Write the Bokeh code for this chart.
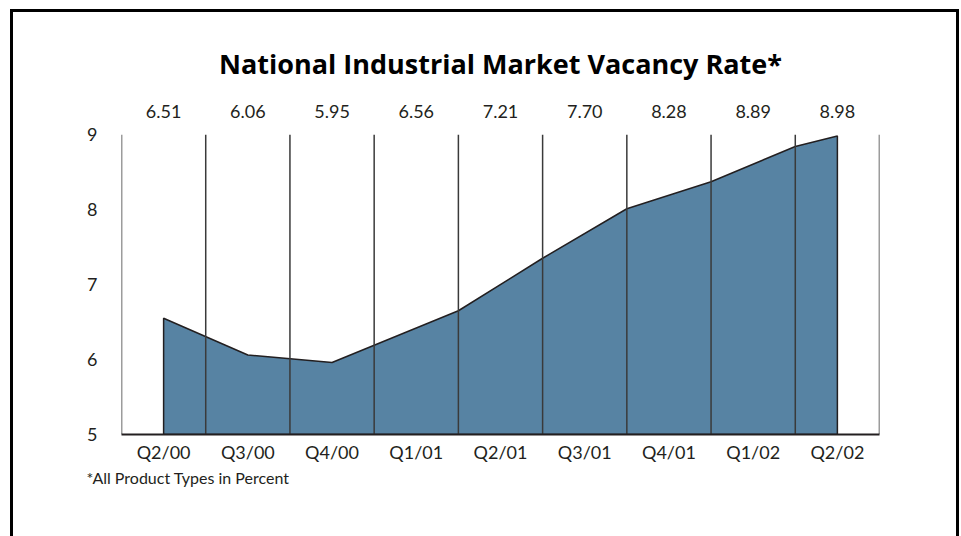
from bokeh.plotting import figure
from bokeh.models import FixedTicker, LinearAxis, Range1d, Title
from bokeh.embed import file_html
from bokeh.resources import INLINE

# ---- data -------------------------------------------------------------
quarters = ["Q2/00", "Q3/00", "Q4/00", "Q1/01", "Q2/01", "Q3/01", "Q4/01", "Q1/02", "Q2/02"]
vacancy = [6.51, 6.06, 5.95, 6.56, 7.21, 7.70, 8.28, 8.89, 8.98]
# outline of the shaded area as it is drawn in the chart (quarter index, percent)
curve_quarter = [0, 1, 2, 3.5, 4.5, 5.5, 6.5, 7.5, 8]
curve_rate = [6.55, 6.06, 5.96, 6.65, 7.35, 8.01, 8.37, 8.84, 8.98]
y_ticks = [5, 6, 7, 8, 9]
y_min, y_max = 5, 9

FONT = "Lato"
INK = "#231f20"

# outer exhibit frame (left, top and right rules) painted behind the canvas
rule = "linear-gradient(#000,#000)"
frame_bg = (f"{rule} 10px 9px / 3px 700px no-repeat, "
            f"{rule} 10px 9px / 949px 3px no-repeat, "
            f"{rule} 956px 9px / 3px 700px no-repeat, #ffffff")

p = figure(width=961, height=536,
           x_range=Range1d(-0.5, len(quarters) - 0.5), y_range=Range1d(y_min, y_max),
           output_backend="svg", toolbar_location=None,
           x_axis_location=None, y_axis_location=None,
           min_border_left=121, min_border_right=82,
           min_border_top=134, min_border_bottom=102,
           styles={"background": frame_bg})
p.grid.visible = False
p.outline_line_color = None
p.background_fill_color = "white"
p.border_fill_alpha = 0

# title
p.title.text = "National Industrial Market Vacancy Rate*"
p.title.align = "center"
p.title.text_font = "Open Sans"
p.title.text_font_size = "27px"
p.title.text_font_style = "bold"
p.title.text_color = "black"
p.title.standoff = 40

# shaded area
xs = [curve_quarter[0]] + curve_quarter + [curve_quarter[-1]]
ys = [y_min] + curve_rate + [y_min]
p.patch(xs, ys, fill_color="#5783a3", line_color=INK, line_width=1.5)

# vertical separators between quarters
bounds = [i - 0.5 for i in range(len(quarters) + 1)]
p.segment(x0=bounds, y0=[y_min] * len(bounds), x1=bounds, y1=[y_max] * len(bounds),
          line_color="#3a3a3a", line_width=1.5)

xb = LinearAxis(ticker=FixedTicker(ticks=list(range(len(quarters)))),
                major_label_overrides={i: q for i, q in enumerate(quarters)},
                axis_line_color=INK, axis_line_width=2,
                major_tick_line_color=None, minor_tick_line_color=None,
                major_label_standoff=0,
                major_label_text_font=FONT, major_label_text_font_size="18px",
                major_label_text_color=INK)
p.add_layout(xb, "below")

xt = LinearAxis(ticker=FixedTicker(ticks=list(range(len(quarters)))),
                major_label_overrides={i: f"{v:.2f}" for i, v in enumerate(vacancy)},
                axis_line_color=None,
                major_tick_line_color=None, minor_tick_line_color=None,
                major_label_standoff=11,
                major_label_text_font=FONT, major_label_text_font_size="18px",
                major_label_text_color=INK)
p.add_layout(xt, "above")

yl = LinearAxis(ticker=FixedTicker(ticks=y_ticks),
                axis_line_color=None,
                major_tick_line_color=None, minor_tick_line_color=None,
                major_label_standoff=18,
                major_label_text_font=FONT, major_label_text_font_size="18px",
                major_label_text_color=INK)
p.add_layout(yl, "left")

p.add_layout(Title(text="*All Product Types in Percent", align="left", offset=-35,
                   text_font=FONT, text_font_size="16px", text_font_style="normal",
                   text_color=INK, standoff=0), "below")

open("out.html", "w").write(file_html(p, INLINE))
